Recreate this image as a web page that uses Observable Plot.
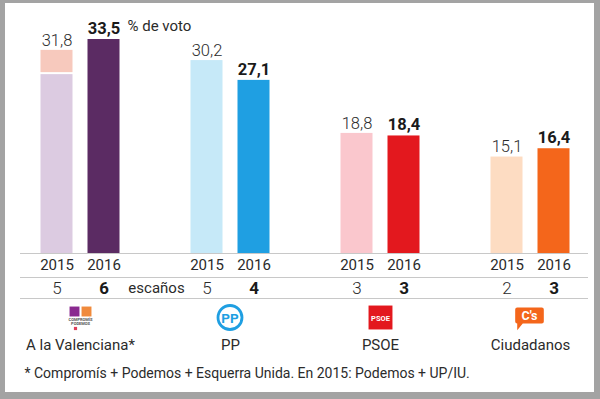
<!DOCTYPE html>
<html>
<head>
<meta charset="utf-8">
<script src="https://cdn.jsdelivr.net/npm/d3@7"></script>
<script src="https://cdn.jsdelivr.net/npm/@observablehq/plot@0.6"></script>
<style>
  html, body { margin: 0; padding: 0; background: #fff; }
  #wrap { position: relative; width: 600px; height: 399px; overflow: hidden; font-family: Roboto, sans-serif; }
  #frame { position: absolute; left: 0; top: 0; width: 600px; height: 399px; box-sizing: border-box;
           border-style: solid; border-color: #a3a3a3; border-width: 3px 6px 7px 5px; pointer-events: none; }
  svg { display: block; }
</style>
</head>
<body>
<div id="wrap"><div id="chart"></div><div id="frame"></div></div>
<script>
const parties = ["A la Valenciana*", "PP", "PSOE", "Ciudadanos"];
const years = ["2015", "2016"];
const votes2015 = [31.8, 30.2, 18.8, 15.1];
const votes2016 = [33.5, 27.1, 18.4, 16.4];
const seats2015 = [5, 5, 3, 2];
const seats2016 = [6, 4, 3, 3];
// 2015 coalition split for A la Valenciana: Compromís-Podemos, UP/IU
const av2015Parts = [28.0, 3.8];
const colors2015 = ["#dccbe1", "#c6e9f8", "#fac7cd", "#fddcc2"];
const colors2016 = ["#5b2b63", "#1f9fe2", "#e3181e", "#f4661b"];
const avUpperColor = "#f7c9bd";
const voteUnit = "% de voto";
const seatsLabel = "escaños";
const footnote = "* Compromís + Podemos + Esquerra Unida. En 2015: Podemos + UP/IU.";

const rows = parties.map((p, i) => ({
  party: p, v15: votes2015[i], v16: votes2016[i], s15: seats2015[i], s16: seats2016[i],
  c15: colors2015[i], c16: colors2016[i]
}));
const rows15 = rows.filter((d, i) => i > 0);
const avRow = rows[0];
const avLower = [{party: parties[0], y1: 0, y2: av2015Parts[0], fill: colors2015[0]}];
const avUpper = [{party: parties[0], y1: av2015Parts[0], y2: av2015Parts[0] + av2015Parts[1], fill: avUpperColor}];

// custom logo symbol: Ciudadanos speech bubble
const bubble = {draw(ctx, size) {
  const k = Math.sqrt(size);
  const w = 0.85 * k, h = 0.48 * k, r = 0.12 * k;
  ctx.moveTo(-w + r, -h);
  ctx.lineTo(w - r, -h); ctx.arcTo(w, -h, w, -h + r, r);
  ctx.lineTo(w, h - r); ctx.arcTo(w, h, w - r, h, r);
  ctx.lineTo(-w + 0.45 * k, h);
  ctx.lineTo(-w + 0.12 * k, h + 0.4 * k);
  ctx.lineTo(-w + 0.12 * k, h);
  ctx.lineTo(-w + r, h); ctx.arcTo(-w, h, -w, h - r, r);
  ctx.lineTo(-w, -h + r); ctx.arcTo(-w, -h, -w + r, -h, r);
  ctx.closePath();
}};

const font = "Roboto, sans-serif";
const dark = "#2b2b2b";
const rule = {stroke: "#c8c8c8", strokeWidth: 1, insetLeft: 20, insetRight: 12};
const bar = {x: "party", insetLeft: 59, insetRight: 59};
const bottom = {x: "party", frameAnchor: "bottom", lineAnchor: "middle"};

const chart = Plot.plot({
  width: 600,
  height: 399,
  marginTop: 39,
  marginBottom: 146,
  marginLeft: 0,
  marginRight: 0,
  style: {fontFamily: font, background: "transparent", overflow: "visible"},
  x: {type: "band", domain: parties, range: [4.5, 604.5], padding: 0, axis: null},
  y: {domain: [0, d3.max(votes2016.concat(votes2015))], axis: null},
  marks: [
    // table rules
    Plot.ruleY([0], rule),
    Plot.ruleY([0], {...rule, dy: 24}),
    Plot.ruleY([0], {...rule, dy: 45}),
    // 2015 bars
    Plot.barY(rows15, {...bar, y: "v15", fill: "c15", dx: -23.5}),
    Plot.barY(avLower, {...bar, y1: "y1", y2: "y2", fill: "fill", dx: -23.5}),
    Plot.barY(avUpper, {...bar, y1: "y1", y2: "y2", fill: "fill", dx: -23.5, insetBottom: 2}),
    // 2016 bars
    Plot.barY(rows, {...bar, y: "v16", fill: "c16", dx: 23.5}),
    // value labels
    Plot.text(rows, {x: "party", y: "v15", text: d => d.v15.toFixed(1).replace(".", ","), dx: -23.5, dy: -10,
      fontSize: 16.5, fontWeight: 300, fill: dark}),
    Plot.text(rows, {x: "party", y: "v16", text: d => d.v16.toFixed(1).replace(".", ","), dx: 23.5, dy: -11,
      fontSize: 16.5, fontWeight: 700, fill: "#1a1a1a"}),
    Plot.text([avRow], {x: "party", y: "v16", text: () => voteUnit, dx: 47, dy: -13, textAnchor: "start",
      fontSize: 15, fontWeight: 400, fill: dark}),
    // years row
    Plot.text(rows, {...bottom, text: () => years[0], dx: -23.5, dy: 12, fontSize: 15, fill: dark}),
    Plot.text(rows, {...bottom, text: () => years[1], dx: 23.5, dy: 12, fontSize: 15, fill: dark}),
    // seats row
    Plot.text(rows, {...bottom, text: "s15", dx: -23.5, dy: 35, fontSize: 17, fontWeight: 300, fill: dark}),
    Plot.text(rows, {...bottom, text: "s16", dx: 23.5, dy: 35, fontSize: 17, fontWeight: 700, fill: "#1a1a1a"}),
    Plot.text([avRow], {...bottom, text: () => seatsLabel, dx: 76, dy: 35, fontSize: 15, fill: dark}),
    // party names
    Plot.text(rows, {...bottom, text: "party", dy: 92, fontSize: 15, fill: dark}),
    // footnote
    Plot.text([footnote], {text: d => d, frameAnchor: "bottom-left", lineAnchor: "middle", textAnchor: "start", dx: 24, dy: 120, fontSize: 14, fill: dark}),
    // logos: A la Valenciana
    Plot.dot([avRow], {...bottom, symbol: "square", r: 5.6, fill: "#8a2a90", dx: -6, dy: 58}),
    Plot.dot([avRow], {...bottom, symbol: "square", r: 5.6, fill: "#f08a3c", dx: 6, dy: 58}),
    Plot.text([avRow], {...bottom, text: () => "COMPROMÍS", dy: 66.5, fontSize: 4, fontWeight: 700, fill: "#555"}),
    Plot.text([avRow], {...bottom, text: () => "PODEMOS", dy: 70.5, fontSize: 4, fontWeight: 700, fill: "#555"}),
    Plot.dot([avRow], {...bottom, symbol: "square", r: 1.8, fill: "#e0405a", dx: -5, dy: 75}),
    // PP
    Plot.dot([rows[1]], {...bottom, r: 12, stroke: "#1f9fe2", strokeWidth: 2.8, fill: "white", dx: -0.5, dy: 64}),
    Plot.text([rows[1]], {...bottom, text: () => "PP", dx: -0.5, dy: 65, fontSize: 13.5, fontWeight: 700, fill: "#1f9fe2"}),
    // PSOE
    Plot.dot([rows[2]], {...bottom, symbol: "square", r: 13.5, fill: "#e3181e", dy: 64}),
    Plot.text([rows[2]], {...bottom, text: () => "PSOE", dy: 65, fontSize: 7.5, fontWeight: 700, fill: "white"}),
    // Ciudadanos
    Plot.dot([rows[3]], {...bottom, symbol: bubble, r: 9.5, fill: "#f4661b", dx: -1, dy: 62}),
    Plot.text([rows[3]], {...bottom, text: () => "C's", dx: -1, dy: 62, fontSize: 12.5, fontWeight: 700, fill: "white"})
  ]
});
document.getElementById("chart").appendChild(chart);
</script>
</body>
</html>
